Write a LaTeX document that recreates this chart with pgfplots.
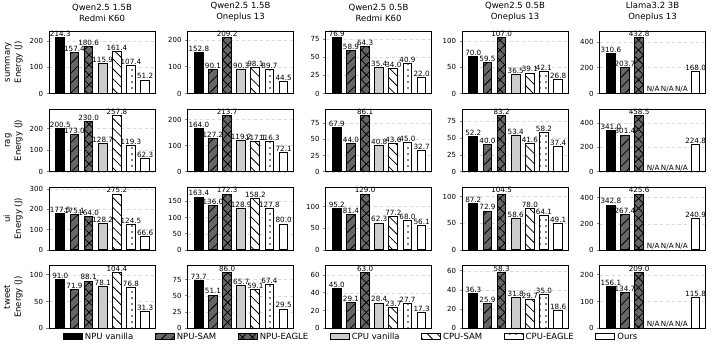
\documentclass[border=0pt]{standalone}
\usepackage{fontspec}
\setmainfont{DejaVu Sans}
\usepackage{pgfplots}
\pgfplotsset{compat=1.18}
\usetikzlibrary{patterns.meta}

\definecolor{npug}{RGB}{102,102,102}
\definecolor{cpug}{RGB}{204,204,204}

\pgfplotsset{
  sb/.style={ybar, bar width=0.62, bar shift=0pt, draw=black, line width=1pt,
    nodes near coords={\pgfmathprintnumber[fixed,fixed zerofill,precision=1,assume math mode=true]{\pgfplotspointmeta}},
    every node near coord/.append style={font=\fontsize{7.2}{8}\selectfont, inner sep=0.6pt, text=black},
    legend image code/.code={\draw[##1] (0pt,-3pt) rectangle (19pt,3.5pt);}},
  s1/.style={sb, fill=black},
  s2/.style={sb, fill=npug, postaction={pattern={Lines[angle=45,distance=7pt,line width=0.8pt]}, pattern color=black}},
  s3/.style={sb, fill=npug, postaction={pattern={Hatch[angle=45,distance=7pt,line width=0.8pt]}, pattern color=black}},
  s4/.style={sb, fill=cpug},
  s5/.style={sb, fill=white, postaction={pattern={Lines[angle=-45,distance=7pt,line width=0.8pt]}, pattern color=black}},
  s6/.style={sb, fill=white, postaction={pattern={Dots[distance=6pt,radius=0.8pt]}, pattern color=black}},
  s7/.style={sb, fill=white},
  base/.style={scale only axis, width=106pt, height=62.5pt, anchor=south west,
    xmin=-0.8, xmax=6.7, ymin=0, xtick=\empty, ytick pos=left, tick align=outside,
    major tick length=2.5pt, axis line style={line width=0.9pt}, major tick style={line width=0.8pt},
    ymajorgrids, grid style={gray!30, line width=0.5pt, dashed},
    tick label style={font=\fontsize{7}{8}\selectfont}, /pgf/number format/assume math mode=true,
    clip=false,
    title style={align=center, font=\fontsize{8.5}{11}\selectfont},
    ylabel style={align=center, font=\fontsize{8.5}{11}\selectfont}},
}

\newcommand{\bars}[7]{%
  \addplot[s1] coordinates {(0,#1)};
  \addplot[s2] coordinates {(1,#2)};
  \addplot[s3] coordinates {(2,#3)};
  \addplot[s4] coordinates {(3,#4)};
  \addplot[s5] coordinates {(4,#5)};
  \addplot[s6] coordinates {(5,#6)};
  \addplot[s7] coordinates {(6,#7)};
}
\newcommand{\barsNA}[4]{%
  \addplot[s1] coordinates {(0,#1)};
  \addplot[s2] coordinates {(1,#2)};
  \addplot[s3] coordinates {(2,#3)};
  \addplot[draw=none, mark=none, nodes near coords={N/A},
    every node near coord/.append style={font=\fontsize{7.2}{8}\selectfont, inner sep=0.8pt, text=black, anchor=south}]
    coordinates {(3,0) (4,0) (5,0)};
  \addplot[s7] coordinates {(6,#4)};
}
\newcommand{\panel}[6]{\begin{axis}[base, at={(#1pt,#2pt)}, ymax=#3, ytick={#4}, #5]#6\end{axis}}

\begin{document}
\begin{tikzpicture}
\path[use as bounding box] (0,0) rectangle (714pt,352pt);
% column 1
\panel{49}{258.5}{240.0}{0,100,200}{title={Qwen2.5 1.5B\\Redmi K60}, ylabel={summary\\Energy (J)}}{\bars{214.3}{157.4}{180.6}{115.9}{161.4}{107.4}{51.2}}
\panel{49}{180.2}{288.7}{0,100,200}{ylabel={rag\\Energy (J)}}{\bars{200.5}{173.0}{230.0}{128.7}{257.8}{119.3}{62.3}}
\panel{49}{102}{308.2}{0,100,200,300}{ylabel={ui\\Energy (J)}}{\bars{177.5}{175.1}{164.0}{128.2}{275.2}{124.5}{66.6}}
\panel{49}{23.7}{116.9}{0,50,100}{ylabel={tweet\\Energy (J)},
  legend columns=7, legend cell align=left,
  legend style={draw=none, fill=none, inner sep=0pt, at={(0.13,-0.04)}, anchor=north west,
    font=\fontsize{8.5}{10}\selectfont, /tikz/every even column/.append style={column sep=19.5pt}},
  legend entries={NPU vanilla, NPU-SAM, NPU-EAGLE, CPU vanilla, CPU-SAM, CPU-EAGLE, Ours}}{\bars{91.0}{71.9}{88.1}{78.1}{104.4}{76.8}{31.3}}
% column 2
\panel{187.5}{258.5}{234.3}{0,100,200}{title={Qwen2.5 1.5B\\Oneplus 13}}{\bars{152.8}{90.1}{209.2}{90.3}{98.1}{89.7}{44.5}}
\panel{187.5}{180.2}{239.3}{0,100,200}{}{\bars{164.0}{127.2}{213.7}{119.2}{117.1}{116.3}{72.1}}
\panel{187.5}{102}{193.0}{0,50,100,150}{}{\bars{163.4}{136.0}{172.3}{128.9}{158.2}{127.8}{80.0}}
\panel{187.5}{23.7}{96.3}{0,25,50,75}{}{\bars{73.7}{51.1}{86.0}{65.7}{59.1}{67.4}{29.5}}
% column 3
\panel{325.5}{258.5}{86.1}{0,25,50,75}{title={Qwen2.5 0.5B\\Redmi K60}}{\bars{76.9}{58.9}{64.3}{35.4}{34.0}{40.9}{22.0}}
\panel{325.5}{180.2}{96.4}{0,25,50,75}{}{\bars{67.9}{44.0}{86.1}{40.8}{43.6}{45.0}{32.7}}
\panel{325.5}{102}{144.5}{0,50,100}{}{\bars{95.2}{81.4}{129.0}{62.3}{77.2}{68.0}{56.1}}
\panel{325.5}{23.7}{70.6}{0,20,40,60}{}{\bars{45.0}{29.1}{63.0}{28.4}{23.7}{27.7}{17.3}}
% column 4
\panel{462}{258.5}{119.8}{0,50,100}{title={Qwen2.5 0.5B\\Oneplus 13}}{\bars{70.0}{59.5}{107.0}{36.5}{39.1}{42.1}{26.8}}
\panel{462}{180.2}{93.2}{0,25,50,75}{}{\bars{52.2}{40.0}{83.2}{53.4}{41.6}{58.2}{37.4}}
\panel{462}{102}{117.0}{0,50,100}{}{\bars{87.2}{72.9}{104.5}{58.6}{78.0}{64.1}{49.1}}
\panel{462}{23.7}{65.3}{0,20,40,60}{}{\bars{36.3}{25.9}{58.3}{31.8}{29.7}{35.0}{18.6}}
% column 5
\panel{599.5}{258.5}{484.7}{0,200,400}{title={Llama3.2 3B\\Oneplus 13}}{\barsNA{310.6}{203.7}{432.8}{168.0}}
\panel{599.5}{180.2}{513.5}{0,200,400}{}{\barsNA{341.0}{301.4}{458.5}{224.8}}
\panel{599.5}{102}{476.7}{0,200,400}{}{\barsNA{342.8}{267.4}{425.6}{240.9}}
\panel{599.5}{23.7}{234.1}{0,100,200}{}{\barsNA{156.1}{134.7}{209.0}{115.8}}
\end{tikzpicture}
\end{document}
